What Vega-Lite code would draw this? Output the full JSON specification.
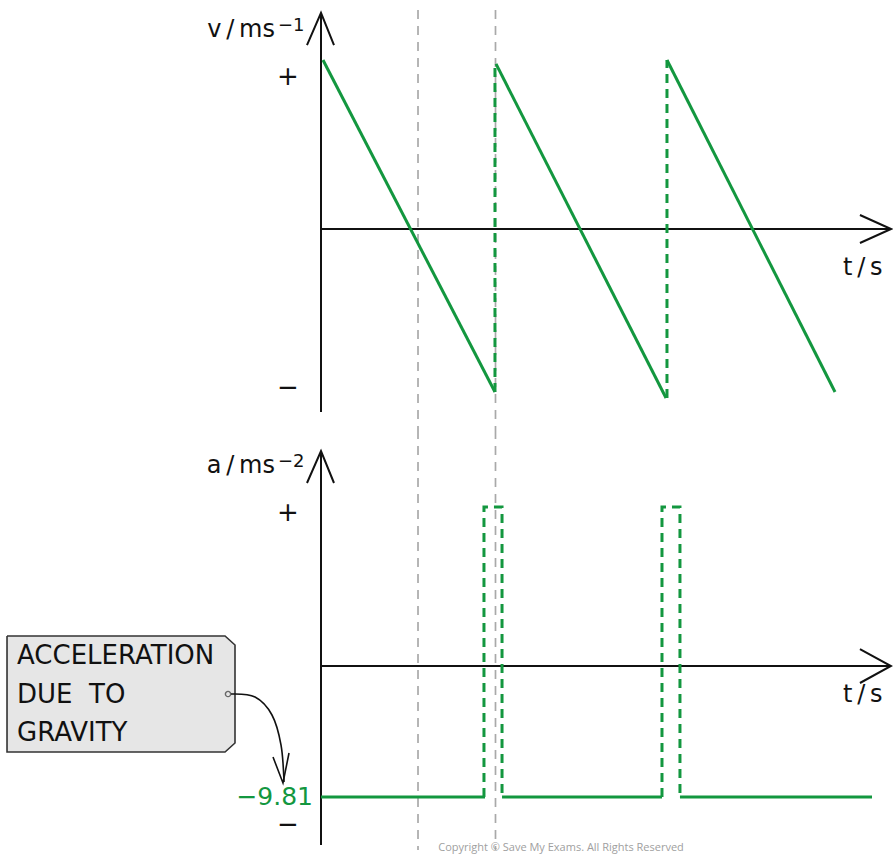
{
  "$schema": "https://vega.github.io/schema/vega-lite/v6.json",
  "padding": 0,
  "spacing": 0,
  "bounds": "flush",
  "background": "white",
  "config": {"view": {"stroke": null}, "font": "DejaVu Sans"},
  "datasets": {
    "topLines": [
      {"s": "axis", "id": "vax", "o": 1, "t": 0, "v": 1.271},
      {"s": "axis", "id": "vax", "o": 2, "t": 0, "v": -1.076},
      {"s": "axis", "id": "vah", "o": 1, "t": -0.163, "v": 1.082},
      {"s": "axis", "id": "vah", "o": 2, "t": 0, "v": 1.271},
      {"s": "axis", "id": "vah", "o": 3, "t": 0.151, "v": 1.082},
      {"s": "axis", "id": "hax", "o": 1, "t": 0, "v": 0},
      {"s": "axis", "id": "hax", "o": 2, "t": 6.628, "v": 0},
      {"s": "axis", "id": "hah", "o": 1, "t": 6.267, "v": 0.0824},
      {"s": "axis", "id": "hah", "o": 2, "t": 6.628, "v": 0},
      {"s": "axis", "id": "hah", "o": 3, "t": 6.267, "v": -0.0824},
      {"s": "gray", "id": "r1", "o": 1, "t": 1.128, "v": 1.288},
      {"s": "gray", "id": "r1", "o": 2, "t": 1.128, "v": -1.1824},
      {"s": "gray", "id": "r2", "o": 1, "t": 2.029, "v": 1.288},
      {"s": "gray", "id": "r2", "o": 2, "t": 2.029, "v": -1.1824},
      {"s": "green", "id": "g1", "o": 1, "t": 0.023, "v": 0.994},
      {"s": "green", "id": "g1", "o": 2, "t": 2.023, "v": -0.959},
      {"s": "green", "id": "g2", "o": 1, "t": 2.035, "v": 0.971},
      {"s": "green", "id": "g2", "o": 2, "t": 4.012, "v": -0.994},
      {"s": "green", "id": "g3", "o": 1, "t": 4.023, "v": 0.994},
      {"s": "green", "id": "g3", "o": 2, "t": 5.977, "v": -0.959},
      {"s": "greendash", "id": "d1", "o": 1, "t": 2.023, "v": -0.959},
      {"s": "greendash", "id": "d1", "o": 2, "t": 2.023, "v": 0.971},
      {"s": "greendash", "id": "d2", "o": 1, "t": 4.023, "v": -0.994},
      {"s": "greendash", "id": "d2", "o": 2, "t": 4.023, "v": 0.994}
    ],
    "bottomLines": [
      {"s": "axis", "id": "vax", "o": 1, "t": 0, "v": 16.1},
      {"s": "axis", "id": "vax", "o": 2, "t": 0, "v": -13.404},
      {"s": "axis", "id": "vah", "o": 1, "t": -0.163, "v": 13.704},
      {"s": "axis", "id": "vah", "o": 2, "t": 0, "v": 16.1},
      {"s": "axis", "id": "vah", "o": 3, "t": 0.151, "v": 13.704},
      {"s": "axis", "id": "hax", "o": 1, "t": 0, "v": 0},
      {"s": "axis", "id": "hax", "o": 2, "t": 6.628, "v": 0},
      {"s": "axis", "id": "hah", "o": 1, "t": 6.267, "v": 1.273},
      {"s": "axis", "id": "hah", "o": 2, "t": 6.628, "v": 0},
      {"s": "axis", "id": "hah", "o": 3, "t": 6.267, "v": -1.273},
      {"s": "thin", "id": "arr", "o": 1, "t": -0.558, "v": -6.815},
      {"s": "thin", "id": "arr", "o": 2, "t": -0.442, "v": -8.762},
      {"s": "thin", "id": "arr", "o": 3, "t": -0.372, "v": -6.515},
      {"s": "gray", "id": "r1", "o": 1, "t": 1.128, "v": 17.673},
      {"s": "gray", "id": "r1", "o": 2, "t": 1.128, "v": -13.779},
      {"s": "gray", "id": "r2", "o": 1, "t": 2.029, "v": 17.673},
      {"s": "gray", "id": "r2", "o": 2, "t": 2.029, "v": -13.779},
      {"s": "green", "id": "b1", "o": 1, "t": 0, "v": -9.81},
      {"s": "green", "id": "b1", "o": 2, "t": 1.907, "v": -9.81},
      {"s": "green", "id": "b2", "o": 1, "t": 2.105, "v": -9.81},
      {"s": "green", "id": "b2", "o": 2, "t": 3.965, "v": -9.81},
      {"s": "green", "id": "b3", "o": 1, "t": 4.174, "v": -9.81},
      {"s": "green", "id": "b3", "o": 2, "t": 6.407, "v": -9.81},
      {"s": "greendash", "id": "p1", "o": 1, "t": 1.895, "v": -9.81},
      {"s": "greendash", "id": "p1", "o": 2, "t": 1.895, "v": 11.907},
      {"s": "greendash", "id": "p1", "o": 3, "t": 2.105, "v": 11.907},
      {"s": "greendash", "id": "p1", "o": 4, "t": 2.105, "v": -9.81},
      {"s": "greendash", "id": "p2", "o": 1, "t": 3.965, "v": -9.81},
      {"s": "greendash", "id": "p2", "o": 2, "t": 3.965, "v": 11.907},
      {"s": "greendash", "id": "p2", "o": 3, "t": 4.174, "v": 11.907},
      {"s": "greendash", "id": "p2", "o": 4, "t": 4.174, "v": -9.81}
    ],
    "box": [
      {"t": -3.651, "top": 2.247, "bot": -6.44},
      {"t": -1.116, "top": 2.247, "bot": -6.44},
      {"t": -1.0, "top": 1.573, "bot": -5.766}
    ],
    "boxOutline": [
      {"o": 1, "t": -3.651, "v": 2.247},
      {"o": 2, "t": -1.116, "v": 2.247},
      {"o": 3, "t": -1.0, "v": 1.573},
      {"o": 4, "t": -1.0, "v": -5.766},
      {"o": 5, "t": -1.116, "v": -6.44},
      {"o": 6, "t": -3.651, "v": -6.44},
      {"o": 7, "t": -3.651, "v": 2.247}
    ],
    "curve": [
      {"o": 1, "t": -1.047, "v": -2.097},
      {"o": 2, "t": -0.767, "v": -2.321},
      {"o": 3, "t": -0.57, "v": -3.669},
      {"o": 4, "t": -0.465, "v": -5.916},
      {"o": 5, "t": -0.43, "v": -8.687}
    ]
  },
  "vconcat": [
    {
      "width": 893,
      "height": 430,
      "encoding": {
        "x": {"field": "t", "type": "quantitative", "axis": null, "scale": {"domain": [-3.7326, 6.6512], "nice": false, "zero": false}},
        "y": {"field": "v", "type": "quantitative", "axis": null, "scale": {"domain": [-1.1824, 1.3471], "nice": false, "zero": false}}
      },
      "layer": [
        {
          "data": {"name": "topLines"},
          "transform": [{"filter": "datum.s === 'gray'"}],
          "mark": {"type": "line", "color": "#a9a9a9", "strokeWidth": 1.7, "strokeDash": [9, 7]},
          "encoding": {"detail": {"field": "id"}, "order": {"field": "o", "type": "quantitative"}}
        },
        {
          "data": {"name": "topLines"},
          "transform": [{"filter": "datum.s === 'axis'"}],
          "mark": {"type": "line", "color": "#111111", "strokeWidth": 2},
          "encoding": {"detail": {"field": "id"}, "order": {"field": "o", "type": "quantitative"}}
        },
        {
          "data": {"name": "topLines"},
          "transform": [{"filter": "datum.s === 'green'"}],
          "mark": {"type": "line", "color": "#13973f", "strokeWidth": 3},
          "encoding": {"detail": {"field": "id"}, "order": {"field": "o", "type": "quantitative"}}
        },
        {
          "data": {"name": "topLines"},
          "transform": [{"filter": "datum.s === 'greendash'"}],
          "mark": {"type": "line", "color": "#13973f", "strokeWidth": 3, "strokeDash": [9, 6]},
          "encoding": {"detail": {"field": "id"}, "order": {"field": "o", "type": "quantitative"}}
        },
        {
          "data": {"values": [{"label": "v\u2009/\u2009ms", "t": -0.535, "v": 1.129}]},
          "mark": {"type": "text", "align": "right", "baseline": "alphabetic", "fontSize": 24, "color": "#111"},
          "encoding": {"text": {"field": "label"}}
        },
        {
          "data": {"values": [{"label": "t\u2009/\u2009s", "t": 6.07, "v": -0.271}]},
          "mark": {"type": "text", "align": "left", "baseline": "alphabetic", "fontSize": 24, "color": "#111"},
          "encoding": {"text": {"field": "label"}}
        },
        {
          "data": {"values": [{"label": "−1", "t": -0.5, "v": 1.165}]},
          "mark": {"type": "text", "align": "left", "baseline": "alphabetic", "fontSize": 18, "color": "#111"},
          "encoding": {"text": {"field": "label"}}
        },
        {
          "data": {"values": [{"label": "+", "t": -0.384, "v": 0.894}, {"label": "−", "t": -0.384, "v": -0.935}]},
          "mark": {"type": "text", "align": "center", "baseline": "middle", "fontSize": 26, "color": "#111"},
          "encoding": {"text": {"field": "label"}}
        }
      ]
    },
    {
      "width": 893,
      "height": 426,
      "encoding": {
        "x": {"field": "t", "type": "quantitative", "axis": null, "scale": {"domain": [-3.7326, 6.6512], "nice": false, "zero": false}},
        "y": {"field": "v", "type": "quantitative", "axis": null, "scale": {"domain": [-14.228, 17.673], "nice": false, "zero": false}}
      },
      "layer": [
        {
          "data": {"name": "box"},
          "mark": {"type": "area", "color": "#e6e6e6", "opacity": 1},
          "encoding": {
            "y": {"field": "top", "type": "quantitative"},
            "y2": {"field": "bot"}
          }
        },
        {
          "data": {"name": "boxOutline"},
          "mark": {"type": "line", "color": "#333333", "strokeWidth": 1.6},
          "encoding": {"order": {"field": "o", "type": "quantitative"}}
        },
        {
          "data": {"name": "bottomLines"},
          "transform": [{"filter": "datum.s === 'gray'"}],
          "mark": {"type": "line", "color": "#a9a9a9", "strokeWidth": 1.7, "strokeDash": [9, 7]},
          "encoding": {"detail": {"field": "id"}, "order": {"field": "o", "type": "quantitative"}}
        },
        {
          "data": {"name": "bottomLines"},
          "transform": [{"filter": "datum.s === 'axis'"}],
          "mark": {"type": "line", "color": "#111111", "strokeWidth": 2},
          "encoding": {"detail": {"field": "id"}, "order": {"field": "o", "type": "quantitative"}}
        },
        {
          "data": {"name": "bottomLines"},
          "transform": [{"filter": "datum.s === 'thin'"}],
          "mark": {"type": "line", "color": "#111111", "strokeWidth": 1.6},
          "encoding": {"detail": {"field": "id"}, "order": {"field": "o", "type": "quantitative"}}
        },
        {
          "data": {"name": "bottomLines"},
          "transform": [{"filter": "datum.s === 'green'"}],
          "mark": {"type": "line", "color": "#13973f", "strokeWidth": 3},
          "encoding": {"detail": {"field": "id"}, "order": {"field": "o", "type": "quantitative"}}
        },
        {
          "data": {"name": "bottomLines"},
          "transform": [{"filter": "datum.s === 'greendash'"}],
          "mark": {"type": "line", "color": "#13973f", "strokeWidth": 3, "strokeDash": [9, 6]},
          "encoding": {"detail": {"field": "id"}, "order": {"field": "o", "type": "quantitative"}}
        },
        {
          "data": {"name": "curve"},
          "mark": {"type": "line", "color": "#111111", "strokeWidth": 1.6, "interpolate": "cardinal"},
          "encoding": {"order": {"field": "o", "type": "quantitative"}}
        },
        {
          "data": {"values": [{"t": -1.081, "v": -2.097}]},
          "mark": {"type": "point", "filled": false, "color": "#333333", "size": 28, "strokeWidth": 1.4}
        },
        {
          "data": {"values": [
            {"label": "ACCELERATION", "t": -3.535, "v": 0.749},
            {"label": "DUE\u00a0\u00a0TO", "t": -3.535, "v": -2.172},
            {"label": "GRAVITY", "t": -3.535, "v": -5.017}
          ]},
          "mark": {"type": "text", "align": "left", "baseline": "middle", "fontSize": 26, "color": "#111"},
          "encoding": {"text": {"field": "label"}}
        },
        {
          "data": {"values": [{"label": "a\u2009/\u2009ms", "t": -0.535, "v": 14.453}]},
          "mark": {"type": "text", "align": "right", "baseline": "alphabetic", "fontSize": 24, "color": "#111"},
          "encoding": {"text": {"field": "label"}}
        },
        {
          "data": {"values": [{"label": "t\u2009/\u2009s", "t": 6.07, "v": -2.696}]},
          "mark": {"type": "text", "align": "left", "baseline": "alphabetic", "fontSize": 24, "color": "#111"},
          "encoding": {"text": {"field": "label"}}
        },
        {
          "data": {"values": [{"label": "−2", "t": -0.5, "v": 14.902}]},
          "mark": {"type": "text", "align": "left", "baseline": "alphabetic", "fontSize": 18, "color": "#111"},
          "encoding": {"text": {"field": "label"}}
        },
        {
          "data": {"values": [{"label": "+", "t": -0.384, "v": 11.457}, {"label": "−", "t": -0.384, "v": -11.907}]},
          "mark": {"type": "text", "align": "center", "baseline": "middle", "fontSize": 26, "color": "#111"},
          "encoding": {"text": {"field": "label"}}
        },
        {
          "data": {"values": [{"label": "−9.81", "t": -0.093, "v": -9.81}]},
          "mark": {"type": "text", "align": "right", "baseline": "middle", "fontSize": 25, "color": "#13973f"},
          "encoding": {"text": {"field": "label"}}
        },
        {
          "data": {"values": [{"label": "Copyright © Save My Exams. All Rights Reserved", "t": 2.791, "v": -13.629}]},
          "mark": {"type": "text", "align": "center", "baseline": "middle", "fontSize": 11, "font": "Open Sans", "color": "#a0a0a0"},
          "encoding": {"text": {"field": "label"}}
        }
      ]
    }
  ]
}
